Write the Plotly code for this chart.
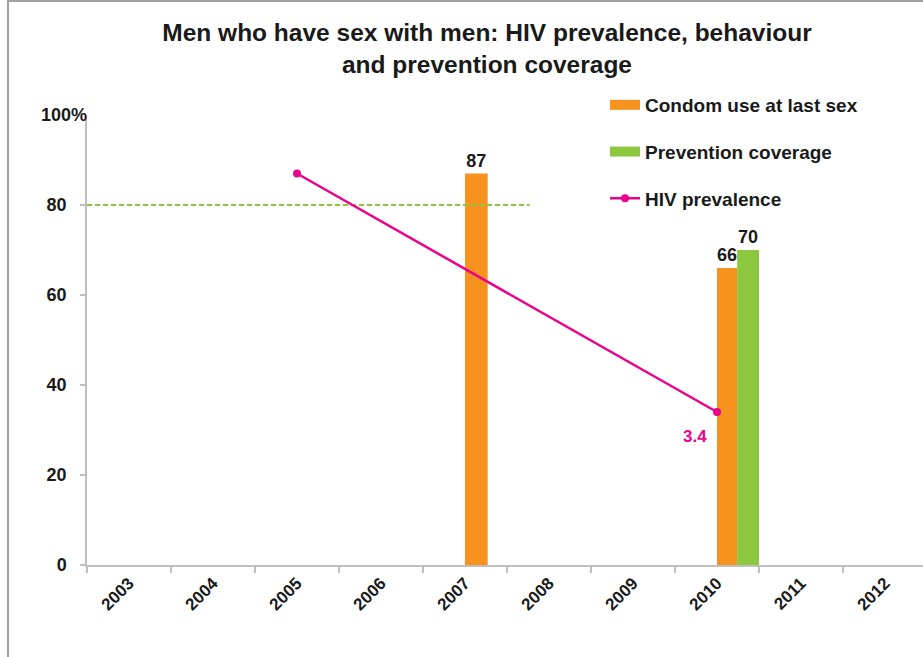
import plotly.graph_objects as go

years = [2003, 2004, 2005, 2006, 2007, 2008, 2009, 2010, 2011, 2012]
year_labels = [str(y) for y in years]

condom_years = [2007, 2010]
condom_values = [87, 66]

prevention_years = [2010]
prevention_values = [70]

hiv_years = [2005, 2010]
hiv_values = [8.7, 3.4]          # % (secondary scale 0-10)
hiv_label = "3.4"

target_value = 80
target_x = [2002.5, 2007.77]

y_ticks = [0, 20, 40, 60, 80]
y_ticktext = ["0", "20", "40", "60", "80"]

ORANGE = "#F7921E"
GREEN = "#8DC63F"
MAGENTA = "#EC008C"
TXT = "#1a1a1a"
AXIS = "#BFBFBF"
FONT = "Liberation Sans, Arial, sans-serif"

W, H = 923, 657
ML, MR, MT, MB = 87, 0, 115, 92
PW = W - ML - MR
PH = H - MT - MB
CAT = 84.0  # px per year

fig = go.Figure()

# target line
fig.add_trace(go.Scatter(
    x=target_x, y=[target_value, target_value], mode="lines",
    line=dict(color=GREEN, width=2, dash="5px,3px"),
    showlegend=False, hoverinfo="skip"))

fig.add_trace(go.Bar(
    x=condom_years, y=condom_values, width=[0.27, 0.24], offset=0,
    marker=dict(color=ORANGE, line=dict(width=0)),
    texttemplate="<b>%{y}</b>", textposition="outside",
    textfont=dict(family=FONT, size=18, color=TXT),
    cliponaxis=False, showlegend=False, name="Condom use at last sex"))

fig.add_trace(go.Bar(
    x=prevention_years, y=prevention_values, width=0.26, offset=0.24,
    marker=dict(color=GREEN, line=dict(width=0)),
    texttemplate="<b>%{y}</b>", textposition="outside",
    textfont=dict(family=FONT, size=18, color=TXT),
    cliponaxis=False, showlegend=False, name="Prevention coverage"))

fig.add_trace(go.Scatter(
    x=hiv_years, y=hiv_values, yaxis="y2", mode="lines+markers",
    line=dict(color=MAGENTA, width=2.5), marker=dict(color=MAGENTA, size=8),
    cliponaxis=False, showlegend=False, name="HIV prevalence"))

# legend entries
fig.add_trace(go.Scatter(x=[None], y=[None], mode="lines", name="<b>Condom use at last sex</b>",
                         line=dict(color=ORANGE, width=12), legendgroup="a"))
fig.add_trace(go.Scatter(x=[None], y=[None], mode="lines", name="<b>Prevention coverage</b>",
                         line=dict(color=GREEN, width=12), legendgroup="b"))
fig.add_trace(go.Scatter(x=[None], y=[None], mode="lines+markers", name="<b>HIV prevalence</b>",
                         line=dict(color=MAGENTA, width=2.5), marker=dict(color=MAGENTA, size=8),
                         legendgroup="c"))

x0 = years[0] - 0.5
x1 = x0 + PW / CAT

fig.update_layout(
    width=W, height=H,
    margin=dict(l=ML, r=MR, t=MT, b=MB, autoexpand=False),
    paper_bgcolor="white", plot_bgcolor="white",
    font=dict(family=FONT, color=TXT),
    barmode="overlay",
    title=dict(text="<b>Men who have sex with men: HIV prevalence, behaviour<br>and prevention coverage</b>",
               x=487 / W, xanchor="center", xref="container",
               y=1 - 41 / H, yanchor="middle", yref="container",
               font=dict(family=FONT, size=24.5, color=TXT)),
    xaxis=dict(range=[x0, x1], tickvals=years, ticktext=["<b>%s</b>" % s for s in year_labels],
               tickangle=-45, ticks="", showline=True, linecolor=AXIS, linewidth=1.5,
               showgrid=False, zeroline=False,
               tickfont=dict(family=FONT, size=17, color=TXT),
               minor=dict(tickvals=[y - 0.5 for y in years] + [years[-1] + 0.5],
                          ticks="outside", ticklen=6, tickcolor=AXIS, tickwidth=1.5, showgrid=False)),
    yaxis=dict(range=[0, 100], tickvals=y_ticks, ticktext=["<b>%s</b>" % t for t in y_ticktext],
               ticks="outside", ticklen=5, tickcolor=AXIS, tickwidth=1.5,
               showline=True, linecolor=AXIS, linewidth=1.5, showgrid=False, zeroline=False,
               tickfont=dict(family=FONT, size=18, color=TXT), ticklabelstandoff=10),
    yaxis2=dict(range=[0, 10], overlaying="y", visible=False),
    legend=dict(x=(605 - ML) / PW, xanchor="left", y=1 + 29 / PH, yanchor="top",
                font=dict(family=FONT, size=19, color=TXT), bgcolor="rgba(0,0,0,0)",
                traceorder="grouped", tracegroupgap=19, itemwidth=30),
    shapes=[dict(type="rect", xref="paper", yref="paper",
                 x0=(8 - ML) / PW, x1=1.2, y0=-0.5, y1=1 + (MT - 1) / PH,
                 line=dict(color="#A0A0A0", width=2), layer="below")],
    annotations=[
        dict(text="<b>100%</b>", x=0, xref="paper", xanchor="right", xshift=2,
             y=100, yref="y", yanchor="middle", showarrow=False,
             font=dict(family=FONT, size=18, color=TXT)),
        dict(text="<b>%s</b>" % hiv_label, x=hiv_years[-1], xref="x", y=hiv_values[-1], yref="y2",
             xanchor="center", yanchor="middle", xshift=-22, yshift=-24, showarrow=False,
             font=dict(family=FONT, size=17, color=MAGENTA)),
    ],
)

fig.write_html("out.html", config={"displayModeBar": False})

with open("out.html", "r", encoding="utf-8") as f:
    html = f.read()
html = html.replace("<body>", '<body style="margin:0;padding:0;overflow:hidden">', 1)
with open("out.html", "w", encoding="utf-8") as f:
    f.write(html)
